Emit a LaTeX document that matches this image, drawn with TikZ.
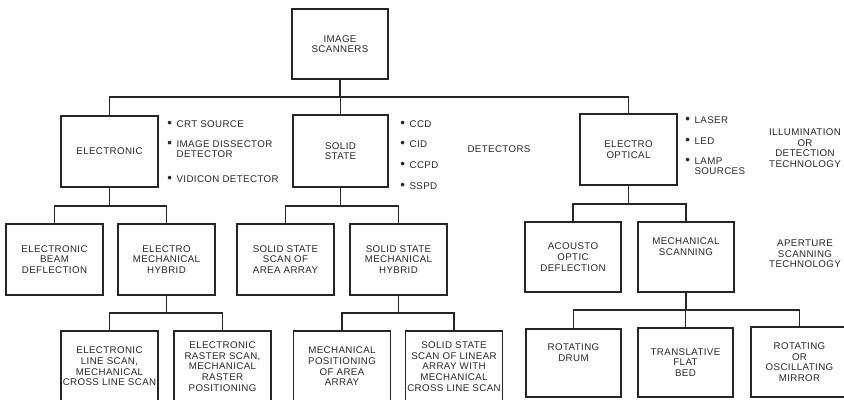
\documentclass[tikz,border=0pt]{standalone}
\usepackage{fontspec}
\setmainfont{Liberation Sans}[LetterSpace=4]
\newcommand{\fs}{\fontsize{7.3}{8}\selectfont}
\newcommand{\bitem}[1]{\begin{tabular}{@{}l@{\hspace{3.5pt}}l@{}}{\fontsize{10}{8}\selectfont\textbullet} & #1\end{tabular}}
\begin{document}
\begin{tikzpicture}[
  x=0.75pt, y=-0.75pt,
  box/.style={draw=black!85, line width=1.05pt, minimum width=72.75pt, minimum height=53.25pt, align=center, inner sep=0pt, font=\fs, text=black!85},
  lbl/.style={align=center, inner sep=0pt, font=\fs, text=black!85},
  item/.style={anchor=west, align=left, inner sep=0pt, font=\fs, text=black!85},
  conn/.style={draw=black!85, line width=1.05pt}
]
\useasboundingbox (0,0) rectangle (844,400);
\clip (0,0) rectangle (844,400);

% top
\node[box, minimum width=72pt, minimum height=52.5pt] (top) at (340,44) {IMAGE\\SCANNERS};

% level 1
\node[box] (el) at (109.5,151.5) {ELECTRONIC};
\node[box, minimum width=71.25pt, minimum height=54pt] (ss) at (340.5,151) {SOLID\\STATE};
\node[box] (eo) at (628.5,149.5) {ELECTRO\\OPTICAL};

% level 2
\node[box] (ebd) at (54.5,259.5) {ELECTRONIC\\BEAM\\DEFLECTION};
\node[box] (emh) at (166.5,259.5) {ELECTRO\\MECHANICAL\\HYBRID};
\node[box] (ssa) at (285.5,259.5) {SOLID STATE\\SCAN OF\\AREA ARRAY};
\node[box] (ssm) at (398.5,259.5) {SOLID STATE\\MECHANICAL\\HYBRID};
\node[box, minimum width=72pt, minimum height=52.5pt] (aod) at (573,257) {ACOUSTO\\OPTIC\\DEFLECTION};
\node[box, minimum width=72pt, minimum height=52.5pt] (ms) at (686,257) {MECHANICAL\\SCANNING\\[8pt]};

% level 3
\node[box] (els) at (109.5,366.5) {ELECTRONIC\\LINE SCAN,\\MECHANICAL\\CROSS LINE SCAN};
\node[box] (ers) at (222.5,366.5) {ELECTRONIC\\RASTER SCAN,\\MECHANICAL\\RASTER\\POSITIONING};
\node[box] (mpa) at (342,366.5) {MECHANICAL\\POSITIONING\\OF AREA\\ARRAY};
\node[box] (ssl) at (454,366.5) {SOLID STATE\\SCAN OF LINEAR\\ARRAY WITH\\MECHANICAL\\CROSS LINE SCAN};
\node[box, minimum width=71.25pt, minimum height=51pt] (rd) at (573.5,363) {ROTATING\\DRUM\\[8pt]};
\node[box, minimum width=71.25pt, minimum height=51.75pt] (tfb) at (685.5,362.5) {TRANSLATIVE\\FLAT\\BED};
\node[box, minimum height=52.5pt] (rom) at (799.5,362) {ROTATING\\OR\\OSCILLATING\\MIRROR};

% bullet lists
\node[item] (e1) at (167,125) {\bitem{CRT SOURCE}};
\node[item] (e2) at (167,150.5) {\bitem{IMAGE DISSECTOR\\ & DETECTOR}};
\node[item] (e3) at (167,180) {\bitem{VIDICON DETECTOR}};

\node[item] (s1) at (400,125) {\bitem{CCD}};
\node[item] (s2) at (400,145) {\bitem{CID}};
\node[item] (s3) at (400,166) {\bitem{CCPD}};
\node[item] (s4) at (400,187) {\bitem{SSPD}};

\node[item] (o1) at (685,121) {\bitem{LASER}};
\node[item] (o2) at (685,142) {\bitem{LED}};
\node[item] (o3) at (685,167.5) {\bitem{LAMP\\ & SOURCES}};

% side labels
\node[lbl] (det) at (499,149) {DETECTORS};
\node[lbl] (ill) at (805,148) {ILLUMINATION\\OR\\DETECTION\\TECHNOLOGY};
\node[lbl] (ap) at (805,254) {APERTURE\\SCANNING\\TECHNOLOGY};

% bus coordinates
\coordinate (b0) at (0,97);
\coordinate (b1) at (0,206);
\coordinate (b2) at (0,204);
\coordinate (b3) at (0,313);
\coordinate (b4) at (0,310);

% connectors
\draw[conn] (top.south) -- (top.south |- b0);
\draw[conn] (el.north) |- (eo.north |- b0) -- (eo.north);
\draw[conn] (ss.north) -- (ss.north |- b0);

\draw[conn] (el.south) -- (el.south |- b1);
\draw[conn] (ebd.north) |- (emh.north |- b1) -- (emh.north);
\draw[conn] (ss.south) -- (ss.south |- b1);
\draw[conn] (ssa.north) |- (ssm.north |- b1) -- (ssm.north);
\draw[conn] (eo.south) -- (eo.south |- b2);
\draw[conn] (aod.north) |- (ms.north |- b2) -- (ms.north);

\draw[conn] (emh.south) -- (emh.south |- b3);
\draw[conn] (els.north) |- (ers.north |- b3) -- (ers.north);
\draw[conn] (ssm.south) -- (ssm.south |- b3);
\draw[conn] (mpa.north) |- (ssl.north |- b3) -- (ssl.north);
\draw[conn] (ms.south) -- (ms.south |- b4);
\draw[conn] (rd.north) |- (rom.north |- b4) -- (rom.north);
\draw[conn] (tfb.north) -- (tfb.north |- b4);
\end{tikzpicture}
\end{document}
